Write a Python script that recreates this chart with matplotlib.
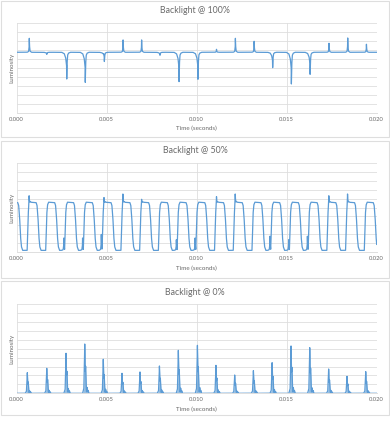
import numpy as np
import matplotlib
matplotlib.use("Agg")
import matplotlib.pyplot as plt
from matplotlib.patches import Rectangle

plt.rcParams['font.family'] = ['Lato', 'DejaVu Sans']

# ---------------- data ----------------
x_ticks = [0.000, 0.005, 0.010, 0.015, 0.020]
x_tick_labels = ["0.000", "0.005", "0.010", "0.015", "0.020"]
titles = ["Backlight @ 100%", "Backlight @ 50%", "Backlight @ 0%"]
x_title = "Time (seconds)"
y_title = "Luminosity"

# Panel 1 (100%): baseline level and spike events (time, extreme value)
p1_base = 6.78
p1_times = [0.00070, 0.00167, 0.00278, 0.00381, 0.00483, 0.00487, 0.00591,
            0.00694, 0.00796, 0.00902, 0.01007, 0.01110, 0.01215, 0.01319,
            0.01422, 0.01526, 0.01630, 0.01735, 0.01839, 0.01943]
p1_values = [8.33, 6.55, 3.81, 3.44, 6.96, 5.74, 8.15,
             8.15, 6.45, 3.52, 3.78, 7.11, 8.33, 8.00,
             5.07, 3.26, 4.33, 7.78, 8.37, 7.67]

# Panel 2 (50%): pulse rise times, levels, edge spikes and low-level blips
p2_low = 0.15
p2_high = 5.6
p2_rise = [-0.00044, 0.00058, 0.00161, 0.00266, 0.00370, 0.00474, 0.00579,
           0.00683, 0.00787, 0.00891, 0.00995, 0.01099, 0.01203, 0.01307,
           0.01411, 0.01515, 0.01619, 0.01723, 0.01827, 0.01931]
p2_spike = [0.0, 1.0, 0.0, 0.0, 0.0, 0.8, 1.2, 0.6, 0.0, 0.0,
            0.0, 0.9, 1.2, 0.0, 0.0, 0.0, 0.0, 1.0, 1.2, 0.0]
p2_blip = [1.3, 0.0, 0.0, 1.4, 1.4, 1.8, 0.0, 0.0, 0.0, 1.2,
           1.4, 0.0, 0.0, 0.0, 1.6, 1.2, 1.6, 0.0, 0.0, 0.0]

# Panel 3 (0%): light pulse times and heights
p3_times = [0.00059, 0.00167, 0.00274, 0.00378, 0.00481, 0.00585, 0.00685,
            0.00793, 0.00898, 0.01004, 0.01107, 0.01211, 0.01315, 0.01419,
            0.01524, 0.01628, 0.01733, 0.01835, 0.01939]
p3_heights = [2.31, 2.80, 4.48, 5.52, 3.81, 2.24, 2.39, 3.06, 4.81, 5.37,
              3.13, 2.05, 2.54, 3.43, 5.30, 5.11, 2.72, 1.90, 2.43]

# ---------------- waveform shape templates (style) ----------------
up_off = [-0.00012, -0.00004, -0.00001, 0.0, 0.00001, 0.00004, 0.00012]
up_frac = [0.0, 0.06, 0.4, 1.0, 0.5, 0.08, 0.0]
dn_off = [-0.00028, -0.00014, -0.00006, -0.00001, 0.0, 0.00002, 0.00005, 0.0001, 0.0002]
dn_frac = [0.0, 0.05, 0.2, 0.5, 1.0, 0.4, 0.1, 0.03, 0.0]
pulse_off = [0.0, 0.00003, 0.00006, 0.0001, 0.00016, 0.00050, 0.00055, 0.00060,
             0.00065, 0.00070, 0.00077]
pulse_frac = [0.0, 0.3, 0.75, 0.94, 1.0, 0.99, 0.93, 0.7, 0.3, 0.08, 0.0]
p3_off = [-0.00012, -0.00005, -0.00002, 0.0, 0.00003, 0.00005, 0.00008, 0.00010,
          0.00013, 0.00016, 0.00019, 0.00023]
p3_frac = [0.0, 0.1, 0.55, 1.0, 0.45, 0.55, 0.15, 0.03, 0.12, 0.03, 0.06, 0.0]

t = np.linspace(0.0, 0.02, 8001)


def bump(center, off, frac):
    return np.interp(t - center, off, frac, left=0.0, right=0.0)


# Panel 1 trace
y1 = np.full_like(t, p1_base)
for tc, v in zip(p1_times, p1_values):
    if v >= p1_base:
        y1 += (v - p1_base) * bump(tc, up_off, up_frac)
    else:
        y1 += (v - p1_base) * bump(tc, dn_off, dn_frac)

# Panel 2 trace
y2 = np.full_like(t, p2_low)
for tr, sp, bl in zip(p2_rise, p2_spike, p2_blip):
    y2 += (p2_high - p2_low) * bump(tr, pulse_off, pulse_frac)
    y2 += sp * bump(tr + 0.00011, up_off, up_frac)
    y2 += bl * bump(tr - 0.00004, up_off, up_frac)

# Panel 3 trace
y3 = np.zeros_like(t)
for tc, h in zip(p3_times, p3_heights):
    y3 += h * bump(tc, p3_off, p3_frac)

traces = [y1, y2, y3]

# ---------------- layout ----------------
W, H = 390, 421
fig = plt.figure(figsize=(W / 100, H / 100), dpi=100)
line_c = "#5B9BD5"
grid_c = "#DEDEDE"
text_c = "#6A6A6A"

panels = [
    dict(box=(1, 137), plot=(23.3, 113.3), title=10.5, xlab=128.5),
    dict(box=(141, 278), plot=(163.3, 251.7), title=150.7, xlab=268.5),
    dict(box=(281, 415), plot=(304.0, 393.3), title=292.3, xlab=409.5),
]
left, right = 16.7, 376.7

for i, p in enumerate(panels):
    bt, bb = p["box"]
    fig.patches.append(Rectangle((1 / W, 1 - bb / H), 387.5 / W, (bb - bt) / H,
                                 transform=fig.transFigure, fill=False,
                                 edgecolor=grid_c, linewidth=0.8))
    pt, pb = p["plot"]
    ax = fig.add_axes([left / W, 1 - pb / H, (right - left) / W, (pb - pt) / H])
    ax.set_xlim(0, 0.02)
    ax.set_ylim(0, 10)
    ax.set_yticks(np.arange(0, 11))
    ax.set_yticklabels([])
    ax.set_xticks(x_ticks)
    ax.set_xticklabels(x_tick_labels, fontsize=4.2, color=text_c)
    ax.tick_params(length=0, pad=3)
    ax.tick_params(axis='y', length=0)
    ax.grid(True, color=grid_c, linewidth=0.6)
    ax.set_axisbelow(True)
    for s in ["top", "right", "left"]:
        ax.spines[s].set_visible(False)
    ax.spines["bottom"].set_color(grid_c)
    ax.spines["bottom"].set_linewidth(0.7)
    ax.patch.set_alpha(0)
    if i == 2:
        ax.fill_between(t, 0, traces[i], color=line_c, alpha=0.65, linewidth=0)
    ax.plot(t, traces[i], color=line_c, linewidth=0.9)
    fig.text(0.5, 1 - p["title"] / H, titles[i], ha='center', va='center',
             fontsize=6.3, color=text_c)
    fig.text(196 / W, 1 - p["xlab"] / H, x_title, ha='center', va='center',
             fontsize=4.5, color=text_c)
    fig.text(11.5 / W, 1 - (pt + pb) / 2 / H, y_title, ha='center', va='center',
             rotation=90, fontsize=4.5, color=text_c)

fig.savefig("out.png", dpi=100, facecolor="white")
